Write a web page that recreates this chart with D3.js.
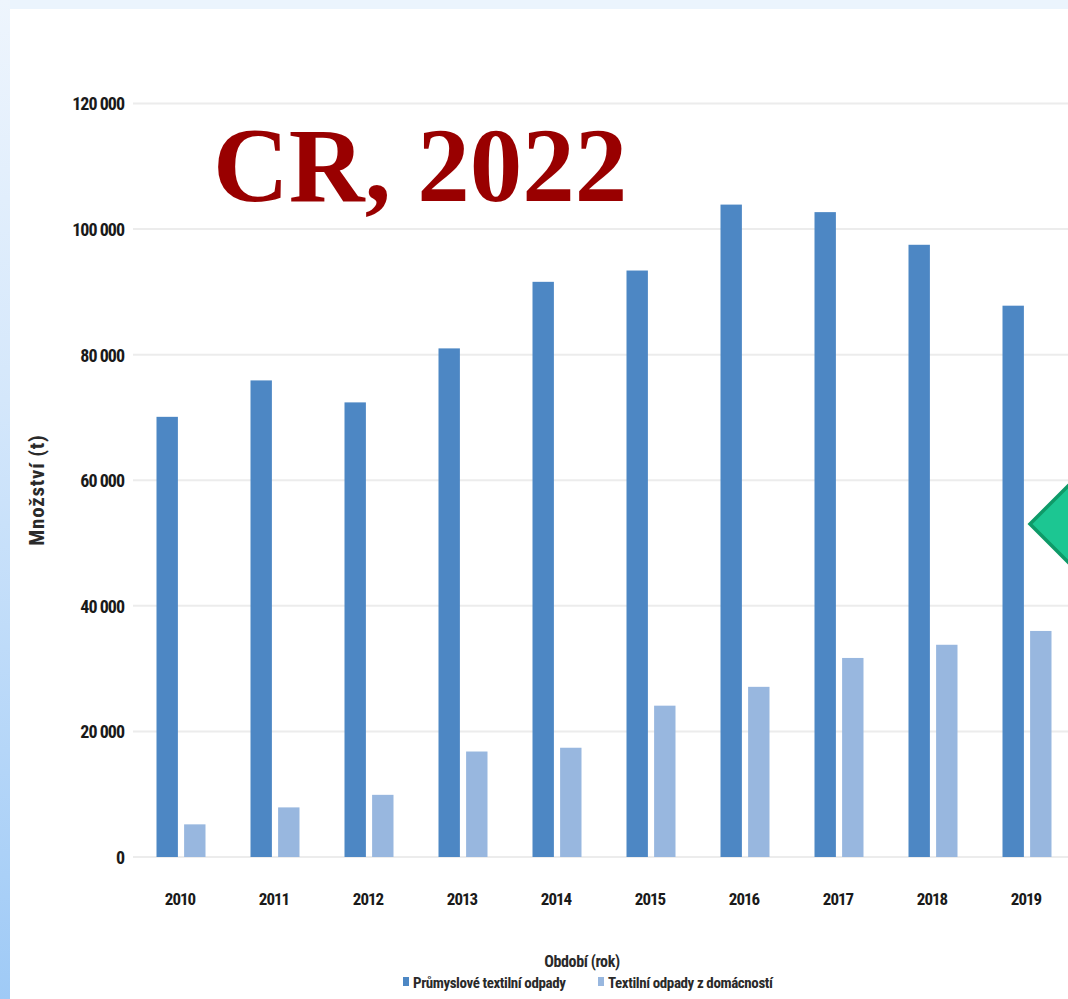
<!DOCTYPE html>
<html lang="cs">
<head>
<meta charset="utf-8">
<script src="https://cdn.jsdelivr.net/npm/d3@7"></script>
<style>
  html, body { margin: 0; padding: 0; background: #ffffff; }
  svg { display: block; }
</style>
</head>
<body>
<svg id="chart" width="1068" height="999"></svg>
<script>
// Roky sledovaného období
const years = ["2010", "2011", "2012", "2013", "2014", "2015", "2016", "2017", "2018", "2019"];
// Názvy řad
const seriesNames = ["Průmyslové textilní odpady", "Textilní odpady z domácností"];
// Průmyslové textilní odpady (t)
const industrial = [70100, 75900, 72400, 81000, 91600, 93400, 103900, 102700, 97500, 87800];
// Textilní odpady z domácností (t)
const household = [5200, 7900, 9900, 16800, 17400, 24100, 27100, 31700, 33800, 36000];
// Popisky osy Y
const yTicks = [0, 20000, 40000, 60000, 80000, 100000, 120000];
const seriesColors = ["#4d87c4", "#98b7df"];

const svg = d3.select("#chart");
const W = 1068, H = 999;

// Pozadí snímku: světlý okraj nahoře a modrý přechod vlevo
const defs = svg.append("defs");
const grad = defs.append("linearGradient")
  .attr("id", "leftEdge").attr("x1", 0).attr("y1", 0).attr("x2", 0).attr("y2", 1);
grad.append("stop").attr("offset", "0%").attr("stop-color", "#eef5fd");
grad.append("stop").attr("offset", "40%").attr("stop-color", "#d4e7fb");
grad.append("stop").attr("offset", "100%").attr("stop-color", "#9fcaf6");

svg.append("rect").attr("x", 0).attr("y", 0).attr("width", W).attr("height", 9).attr("fill", "#ebf4fd");
svg.append("rect").attr("x", 0).attr("y", 0).attr("width", 10).attr("height", H).attr("fill", "url(#leftEdge)");
svg.append("rect").attr("x", 10).attr("y", 9).attr("width", W - 10).attr("height", H - 9).attr("fill", "#ffffff");

// Měřítka
const x = d3.scaleBand().domain(years).range([133, 1073]).padding(0);
const xs = d3.scaleBand().domain(seriesNames).range([23.5, 72.5]).paddingInner(0.225);
const y = d3.scaleLinear().domain([0, 120000]).range([857, 103.5]);

const csLocale = d3.formatLocale({ decimal: ",", thousands: " ", grouping: [3], currency: ["", " Kč"] });
const fmt = csLocale.format(",");

const labelFont = "'Liberation Sans Narrow', 'Arial Narrow', 'Roboto Condensed', sans-serif";

// Vodorovné mřížky
svg.append("g").selectAll("line").data(yTicks).join("line")
  .attr("x1", 133).attr("x2", W)
  .attr("y1", d => y(d)).attr("y2", d => y(d))
  .attr("stroke", "#ececec").attr("stroke-width", 2);

// Popisky osy Y
const yAxis = d3.axisLeft(y).tickValues(yTicks).tickFormat(fmt).tickSize(0).tickPadding(9);
const gy = svg.append("g").attr("transform", "translate(133,0)").call(yAxis);
gy.select(".domain").remove();
gy.selectAll(".tick line").remove();
gy.selectAll("text")
  .attr("font-family", labelFont).attr("font-size", 18).attr("font-weight", "bold")
  .attr("fill", "#1a1a1a").attr("letter-spacing", "-1")
  .attr("dy", "0.36em");

// Sloupce
const rows = years.map((yr, i) => ({ year: yr, values: [industrial[i], household[i]] }));
const groups = svg.append("g").selectAll("g").data(rows).join("g")
  .attr("transform", d => `translate(${x(d.year)},0)`);
groups.selectAll("rect").data(d => d.values.map((v, k) => ({ name: seriesNames[k], value: v, k })))
  .join("rect")
  .attr("x", d => xs(d.name))
  .attr("width", xs.bandwidth())
  .attr("y", d => y(d.value))
  .attr("height", d => y(0) - y(d.value))
  .attr("fill", d => seriesColors[d.k]);

// Popisky osy X
const xAxis = d3.axisBottom(x).tickSize(0).tickPadding(0);
const gx = svg.append("g").attr("transform", "translate(0,905)").call(xAxis);
gx.select(".domain").remove();
gx.selectAll("text")
  .attr("dy", 0)
  .attr("font-family", labelFont).attr("font-size", 17).attr("font-weight", "bold")
  .attr("fill", "#1a1a1a").attr("letter-spacing", "-1");

// Název osy X
svg.append("text").attr("x", 582).attr("y", 967).attr("text-anchor", "middle")
  .attr("font-family", labelFont).attr("font-size", 16).attr("font-weight", "bold")
  .attr("fill", "#2a2a2a").attr("letter-spacing", "-0.4")
  .text("Období (rok)");

// Název osy Y
svg.append("text").attr("transform", "translate(44,490) rotate(-90)").attr("text-anchor", "middle")
  .attr("font-family", labelFont).attr("font-size", 21).attr("font-weight", "bold")
  .attr("fill", "#2a2a2a").attr("letter-spacing", "0.8")
  .text("Množství (t)");

// Legenda
const legendItems = [{ x: 403, name: seriesNames[0], color: seriesColors[0] },
                     { x: 598, name: seriesNames[1], color: seriesColors[1] }];
const lg = svg.append("g").selectAll("g").data(legendItems).join("g")
  .attr("transform", d => `translate(${d.x},0)`);
lg.append("rect").attr("x", 0).attr("y", 977).attr("width", 6).attr("height", 9).attr("fill", d => d.color);
lg.append("text").attr("x", 10).attr("y", 988)
  .attr("font-family", labelFont).attr("font-size", 15).attr("font-weight", "bold")
  .attr("fill", "#2a2a2a").attr("letter-spacing", "-0.4")
  .text(d => d.name);

// Nadpis
svg.append("text").attr("x", 213).attr("y", 201)
  .attr("font-family", "'Liberation Serif', 'Times New Roman', serif")
  .attr("font-size", 105).attr("font-weight", "bold").attr("fill", "#990000")
  .text("CR, 2022");

// Zelená šipka u pravého okraje
svg.append("path")
  .attr("d", "M1030,524 L1090,464 L1150,524 L1090,584 Z")
  .attr("fill", "#1cc692").attr("stroke", "#0e9a68").attr("stroke-width", 3.5)
  .attr("stroke-linejoin", "miter");
</script>
</body>
</html>
